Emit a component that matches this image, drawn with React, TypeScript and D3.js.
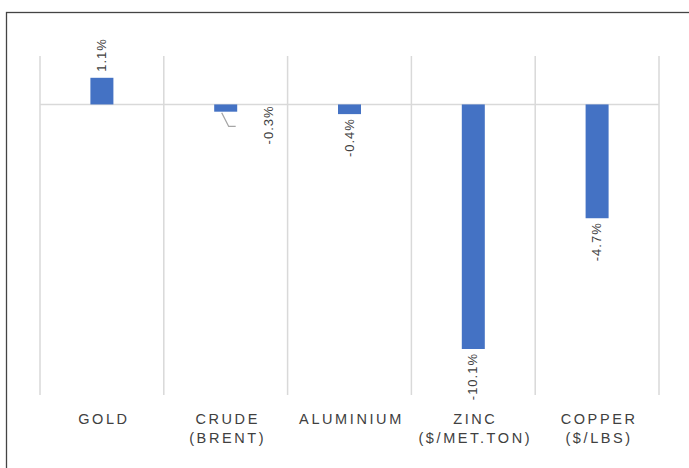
import React, { useRef, useEffect } from "react";
import * as d3 from "d3";

const categories = ["GOLD", "CRUDE\n(BRENT)", "ALUMINIUM", "ZINC\n($/MET.TON)", "COPPER\n($/LBS)"];
const changes = [1.1, -0.3, -0.4, -10.1, -4.7];
const valueLabels = ["1.1%", "-0.3%", "-0.4%", "-10.1%", "-4.7%"];

const W = 689;
const H = 468;

export default function App() {
  const svgRef = useRef<SVGSVGElement>(null);

  useEffect(() => {
    if (!svgRef.current) return;
    const svg = d3.select(svgRef.current);
    svg.selectAll("*").remove();

    const left = 40;
    const right = 659;
    const top = 56;
    const bottom = 395;
    const textColor = "#404040";
    const font = "Arial, 'Liberation Sans', sans-serif";

    // outer frame
    svg.append("rect")
      .attr("x", 6.5).attr("y", 12.5)
      .attr("width", W + 10).attr("height", H + 10)
      .attr("fill", "white")
      .attr("stroke", "#444").attr("stroke-width", 1.3);

    const x = d3.scaleBand<number>()
      .domain(d3.range(categories.length))
      .range([left, right]);

    const y = d3.scaleLinear().domain([-12, 2]).range([bottom, top]);

    // vertical grid lines at band edges
    const edges = d3.range(categories.length + 1).map((i) => left + i * x.bandwidth());
    svg.selectAll(".vgrid")
      .data(edges)
      .enter()
      .append("line")
      .attr("x1", (d) => d).attr("x2", (d) => d)
      .attr("y1", top).attr("y2", bottom)
      .attr("stroke", "#d9d9d9").attr("stroke-width", 1.5);

    // zero line
    svg.append("line")
      .attr("x1", left).attr("x2", right)
      .attr("y1", y(0)).attr("y2", y(0))
      .attr("stroke", "#d9d9d9").attr("stroke-width", 1.5);

    const barW = 23;
    const cx = (i: number) => (x(i) as number) + x.bandwidth() / 2;

    svg.selectAll(".bar")
      .data(changes)
      .enter()
      .append("rect")
      .attr("x", (d, i) => cx(i) - barW / 2)
      .attr("y", (d) => y(Math.max(0, d)))
      .attr("width", barW)
      .attr("height", (d) => Math.abs(y(d) - y(0)))
      .attr("fill", "#4472c4");

    // value labels, rotated
    changes.forEach((v, i) => {
      let lx = cx(i);
      let ly = v >= 0 ? y(v) - 6 : y(v) + 4;
      if (i === 1) {
        // label pushed aside with a leader line
        lx = cx(i) + 43;
        ly = y(0) + 1;
        svg.append("polyline")
          .attr("points", `${cx(i) - 4},${y(v) + 1} ${cx(i) + 3},${y(0) + 22} ${cx(i) + 10},${y(0) + 22}`)
          .attr("fill", "none")
          .attr("stroke", "#a6a6a6").attr("stroke-width", 1.3);
      }
      svg.append("text")
        .attr("transform", `translate(${lx + 4},${ly}) rotate(-90)`)
        .attr("text-anchor", v >= 0 ? "start" : "end")
        .attr("font-family", font)
        .attr("font-size", 13)
        .attr("letter-spacing", 1)
        .attr("fill", textColor)
        .text(valueLabels[i]);
    });

    // category labels
    categories.forEach((c, i) => {
      const t = svg.append("text")
        .attr("x", cx(i) + 1)
        .attr("y", 424)
        .attr("text-anchor", "middle")
        .attr("font-family", font)
        .attr("font-size", 14.5)
        .attr("letter-spacing", 2.6)
        .attr("fill", textColor);
      c.split("\n").forEach((line, j) => {
        t.append("tspan").attr("x", cx(i) + 2).attr("dy", j === 0 ? 0 : 19).text(line);
      });
    });
  }, []);

  return (
    <div style={{ position: "fixed", left: 0, top: 0, width: W, height: H, background: "white" }}>
      <svg ref={svgRef} width={W} height={H} style={{ display: "block" }} />
    </div>
  );
}
